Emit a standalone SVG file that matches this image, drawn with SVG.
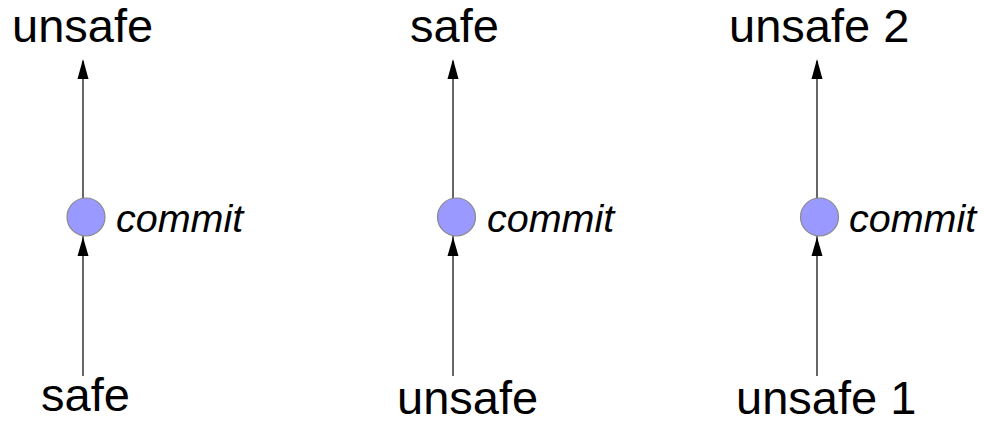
<svg xmlns="http://www.w3.org/2000/svg" width="984" height="424" viewBox="0 0 984 424">
  <style>
    .label { font-family: "Liberation Sans", Arial, sans-serif; font-size: 47px; fill: #000; }
    .note { font-family: "Liberation Sans", Arial, sans-serif; font-size: 39.5px; font-style: italic; fill: #000; }
    .dot { fill: #9999ff; stroke: #8a8a8a; stroke-width: 1.2; }
    .edge { stroke: #000; stroke-width: 1.2; fill: none; }
    .head { fill: #000; }
  </style>

  <!-- connectors: one vertical line per column, with arrowheads above and below each commit dot -->
  <g id="connectors">
    <line class="edge" x1="83" y1="376" x2="83" y2="61"/>
    <path class="head" d="M77.5,79 L83,59 L88.5,79 Z"/>
    <path class="head" d="M77.5,256 L83,237 L88.5,256 Z"/>

    <line class="edge" x1="453" y1="376" x2="453" y2="61"/>
    <path class="head" d="M447.5,79 L453,59 L458.5,79 Z"/>
    <path class="head" d="M447.5,256 L453,237 L458.5,256 Z"/>

    <line class="edge" x1="817" y1="376" x2="817" y2="61"/>
    <path class="head" d="M811.5,79 L817,59 L822.5,79 Z"/>
    <path class="head" d="M811.5,256 L817,237 L822.5,256 Z"/>
  </g>

  <!-- column 1 -->
  <g id="top1"><text class="label" x="12" y="42">unsafe</text></g>
  <g id="commit1">
    <circle class="dot" cx="86" cy="217" r="19"/>
    <text class="note" x="116" y="232">commit</text>
  </g>
  <g id="bottom1"><text class="label" x="41" y="411">safe</text></g>

  <!-- column 2 -->
  <g id="top2"><text class="label" x="410" y="42">safe</text></g>
  <g id="commit2">
    <circle class="dot" cx="456.5" cy="217" r="19"/>
    <text class="note" x="487" y="232">commit</text>
  </g>
  <g id="bottom2"><text class="label" x="397" y="414">unsafe</text></g>

  <!-- column 3 -->
  <g id="top3"><text class="label" x="729" y="42">unsafe 2</text></g>
  <g id="commit3">
    <circle class="dot" cx="819.5" cy="217" r="19"/>
    <text class="note" x="849" y="232">commit</text>
  </g>
  <g id="bottom3"><text class="label" x="736" y="414">unsafe 1</text></g>
</svg>
